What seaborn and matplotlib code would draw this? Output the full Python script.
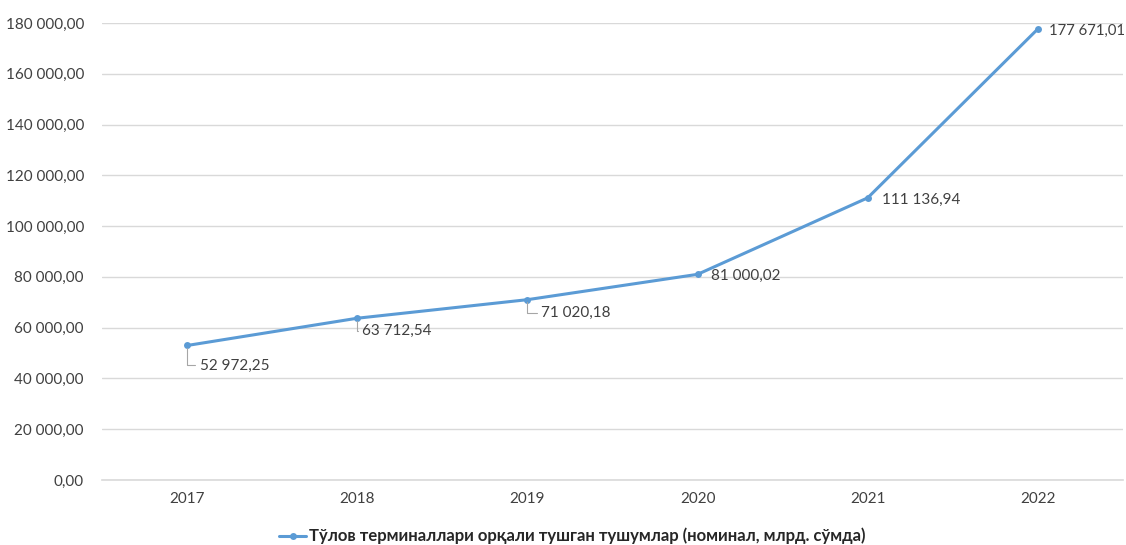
import matplotlib
matplotlib.use("Agg")
import numpy as np
import pandas as pd
import matplotlib.pyplot as plt
from matplotlib.ticker import FuncFormatter, FixedLocator
import seaborn as sns

years = ['2017', '2018', '2019', '2020', '2021', '2022']
values = [52972.25, 63712.54, 71020.18, 81000.02, 111136.94, 177671.01]
series_name = 'Тўлов терминаллари орқали тушган тушумлар (номинал, млрд. сўмда)'

blue = '#5B9BD5'
grid_col = '#D9D9D9'
txt_col = '#404040'

sns.set_style('white')
plt.rcParams['font.family'] = ['Lato', 'DejaVu Sans']

def fmt(v, pos=None):
    s = '{:,.2f}'.format(v)
    return s.replace(',', ' ').replace('.', ',')

df = pd.DataFrame({'year': years, 'value': values})

fig = plt.figure(figsize=(11.26, 5.45), dpi=100)
ax = fig.add_axes([0.0906, 0.1193, 0.9067, 0.8385])

sns.lineplot(data=df, x='year', y='value', ax=ax, color=blue, linewidth=2.2,
             marker='o', markersize=5, markeredgewidth=0, label=series_name)

ax.set_xlim(-0.5, 5.5)
ax.set_ylim(0, 180000)
ax.set_yticks(np.arange(0, 180001, 20000))
ax.yaxis.set_major_formatter(FuncFormatter(fmt))
ax.grid(axis='y', color=grid_col, linewidth=1)
ax.set_axisbelow(True)
for s in ['top', 'right', 'left']:
    ax.spines[s].set_visible(False)
ax.spines['bottom'].set_color(grid_col)
ax.spines['bottom'].set_linewidth(1.2)
ax.set_xlabel('')
ax.set_ylabel('')
ax.tick_params(axis='both', length=0, labelsize=11, labelcolor=txt_col, pad=9)
ax.tick_params(axis='y', pad=13)
ax.xaxis.set_minor_locator(FixedLocator(np.arange(-0.5, 6, 1)))
ax.tick_params(axis='x', which='minor', length=5, color=grid_col, width=1.2)

# data labels: (dx, dy) in pixels, leader line or not
offsets = [(13, -20, True), (5, -13, True), (14, -13, True),
           (13, -2, False), (14, -2, False), (11, -2, False)]
for i, (v, (dx, dy, lead)) in enumerate(zip(values, offsets)):
    kw = {}
    if lead:
        kw['arrowprops'] = dict(arrowstyle='-', color='#A6A6A6', lw=0.8,
                                connectionstyle='angle,angleA=0,angleB=90,rad=0',
                                shrinkA=1, shrinkB=2)
    ax.annotate(fmt(v), xy=(i, v), xytext=(dx, dy), textcoords='offset pixels',
                ha='left', va='center', fontsize=10.7 if i == 5 else 11,
                color=txt_col, **kw)

leg = ax.legend(loc='center', bbox_to_anchor=(0.461, -0.123), frameon=False,
                prop={'weight': 'bold', 'size': 12}, handlelength=1.6,
                handletextpad=0.2)
for t in leg.get_texts():
    t.set_color('#262626')

fig.savefig('out.png', dpi=100)
